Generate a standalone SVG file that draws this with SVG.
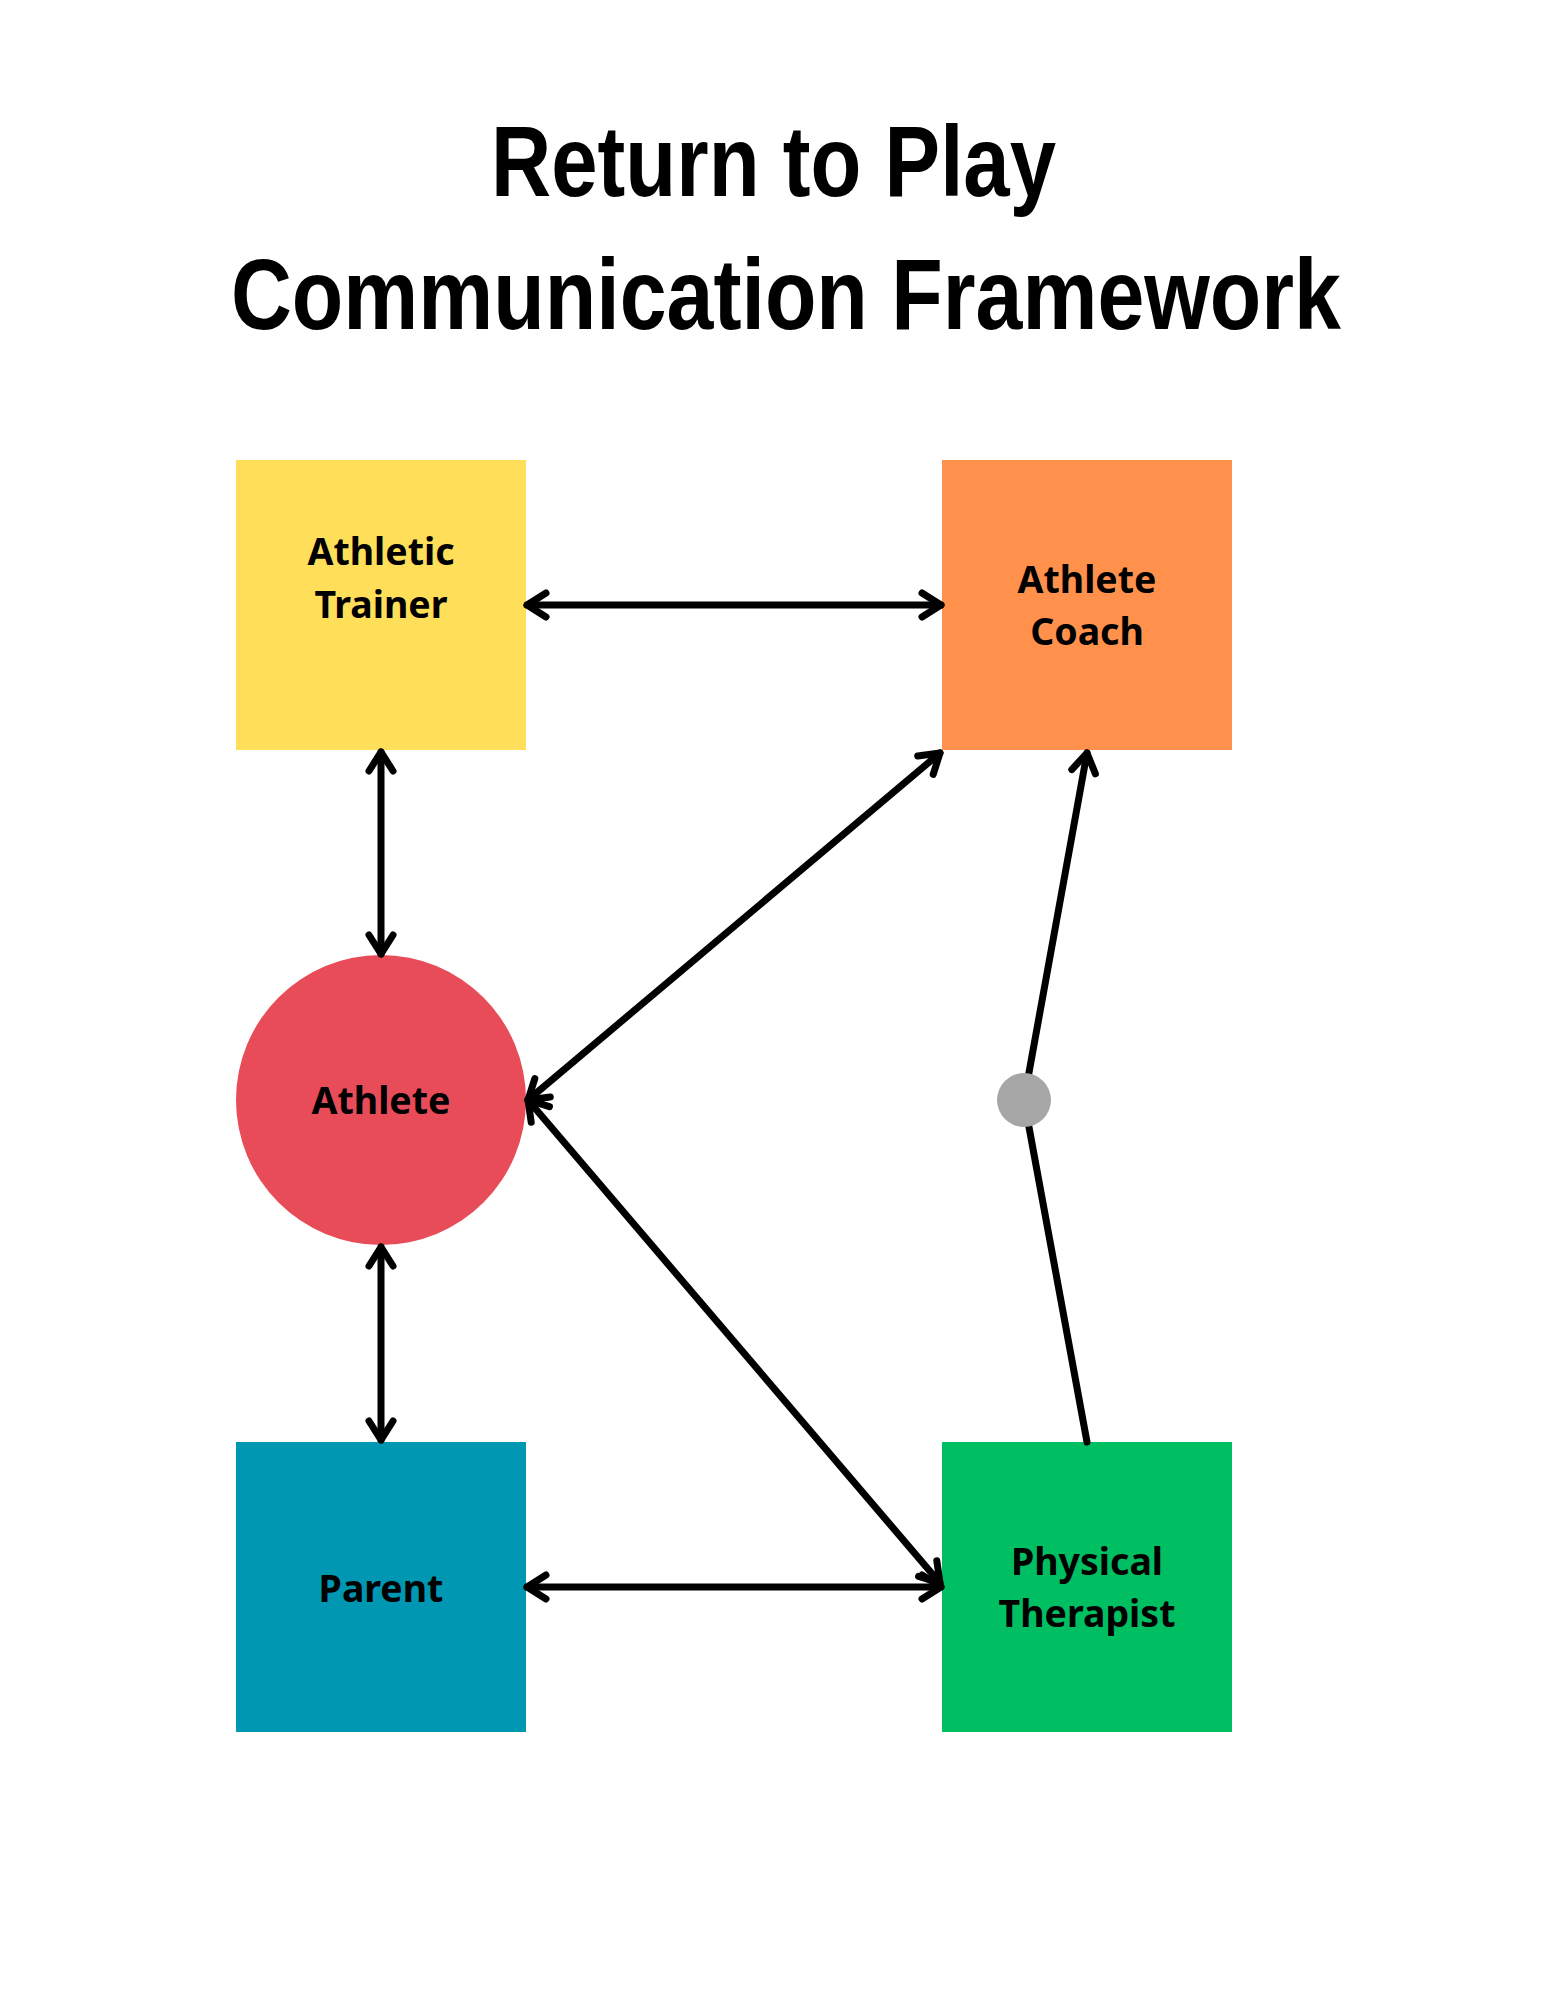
<svg xmlns="http://www.w3.org/2000/svg" width="1545" height="2000" viewBox="0 0 1545 2000">
<style>
.title{font-family:"Liberation Sans",Arial,sans-serif;font-weight:bold;font-size:100px;fill:#000}
.lbl{font-family:"Noto Sans","Liberation Sans",sans-serif;font-weight:bold;font-size:37.5px;fill:#000;text-anchor:middle}
.conn{stroke:#000;stroke-width:7;fill:none;stroke-linecap:round;stroke-linejoin:round}
</style>
<defs>
<marker id="arr" markerUnits="userSpaceOnUse" markerWidth="40" markerHeight="40" refX="0" refY="0" orient="auto-start-reverse" overflow="visible" viewBox="-30 -20 40 40">
<path d="M -19 -12 L 0 0 L -19 12" fill="none" stroke="#000" stroke-width="7" stroke-linecap="round" stroke-linejoin="round"/>
</marker>
</defs>
<rect width="1545" height="2000" fill="#fff"/>
<g id="title">
<text class="title" x="491" y="196" textLength="565" lengthAdjust="spacingAndGlyphs">Return to Play</text>
<text class="title" x="231" y="329" textLength="1110" lengthAdjust="spacingAndGlyphs">Communication Framework</text>
</g>
<g id="athletic-trainer">
<rect x="236" y="460" width="290" height="290" fill="#FFDE59"/>
<text class="lbl" x="381" y="565">Athletic</text>
<text class="lbl" x="381" y="618">Trainer</text>
</g>
<g id="athlete-coach">
<rect x="942" y="460" width="290" height="290" fill="#FF914D"/>
<text class="lbl" x="1087" y="593">Athlete</text>
<text class="lbl" x="1087" y="645">Coach</text>
</g>
<g id="athlete">
<circle cx="381" cy="1100" r="145" fill="#E84C59"/>
<text class="lbl" x="381" y="1114">Athlete</text>
</g>
<g id="parent">
<rect x="236" y="1442" width="290" height="290" fill="#0097B2"/>
<text class="lbl" x="381" y="1602">Parent</text>
</g>
<g id="physical-therapist">
<rect x="942" y="1442" width="290" height="290" fill="#00BF63"/>
<text class="lbl" x="1087" y="1575">Physical</text>
<text class="lbl" x="1087" y="1627">Therapist</text>
</g>
<g id="connectors">
<line class="conn" x1="527" y1="605" x2="941" y2="605" marker-start="url(#arr)" marker-end="url(#arr)"/>
<line class="conn" x1="381" y1="752" x2="381" y2="954" marker-start="url(#arr)" marker-end="url(#arr)"/>
<line class="conn" x1="381" y1="1247" x2="381" y2="1440" marker-start="url(#arr)" marker-end="url(#arr)"/>
<line class="conn" x1="528" y1="1100" x2="940" y2="753" marker-start="url(#arr)" marker-end="url(#arr)"/>
<line class="conn" x1="528" y1="1100" x2="940" y2="1583" marker-start="url(#arr)" marker-end="url(#arr)"/>
<line class="conn" x1="527" y1="1587" x2="941" y2="1587" marker-start="url(#arr)" marker-end="url(#arr)"/>
<polyline class="conn" points="1087,1442 1024,1100 1087,753" marker-end="url(#arr)"/>
<circle cx="1024" cy="1100" r="27" fill="#A6A6A6"/>
</g>
</svg>
